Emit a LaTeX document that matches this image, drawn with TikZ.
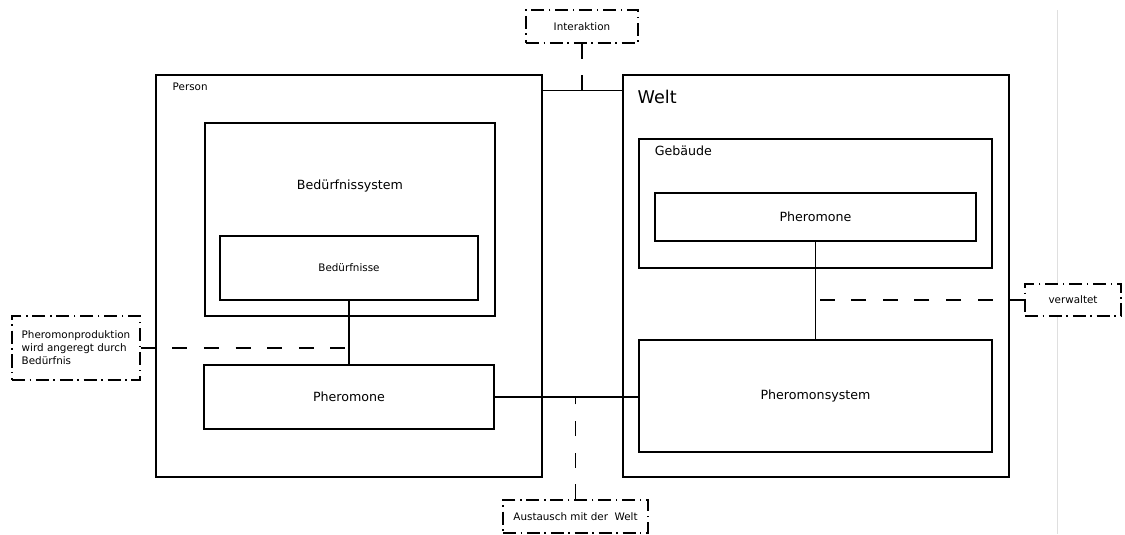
\documentclass[tikz,border=0pt]{standalone}
\usepackage{fontspec}
\setmainfont{DejaVu Sans}
\usetikzlibrary{positioning,calc}

\begin{document}
\begin{tikzpicture}[
    box/.style={rectangle, draw=black, line width=0.7pt, inner sep=0pt,
                font=\fontsize{7.2}{8.6}\selectfont},
    smalltxt/.style={font=\fontsize{5.9}{7.4}\selectfont},
    note/.style={rectangle, draw=black, fill=white, line width=0.8pt,
                 dash pattern=on 7.4pt off 2.6pt on 0.8pt off 2.8pt,
                 inner sep=0pt, smalltxt},
    lbl/.style={inner sep=0pt, font=\fontsize{7.2}{8.6}\selectfont},
    link/.style={line width=0.7pt},
    notelink/.style={line width=0.7pt, dash pattern=on 8.5pt off 9.5pt},
]
\useasboundingbox (0,0) rectangle (22.5,-10.68);

% page edge
\draw[gray!25, line width=0.5pt] (21.14,-0.2) -- (21.14,-10.68);

% Person
\node[box, minimum width=7.72cm, minimum height=8.04cm] (person) at (6.98,-5.52) {};
\node[lbl, smalltxt, anchor=west] at ($(person.north west)+(0.34,-0.24)$) {Person};

\node[box, minimum width=5.80cm, minimum height=3.86cm] (bsys) at (7.00,-4.39) {};
\node[lbl, below=1.14cm of bsys.north] {Bedürfnissystem};

\node[box, smalltxt, minimum width=5.16cm, minimum height=1.28cm] (bed) at (6.98,-5.36) {Bedürfnisse};
\node[box, minimum width=5.80cm, minimum height=1.28cm] (pherop) at (6.98,-7.94) {Pheromone};

% Welt
\node[box, minimum width=7.72cm, minimum height=8.04cm] (welt) at (16.32,-5.52) {};
\node[lbl, anchor=west, font=\fontsize{10}{12}\selectfont] at ($(welt.north west)+(0.30,-0.46)$) {Welt};

\node[box, minimum width=7.06cm, minimum height=2.58cm] (geb) at (16.31,-4.07) {};
\node[lbl, anchor=west] at ($(geb.north west)+(0.32,-0.24)$) {Gebäude};

\node[box, minimum width=6.42cm, minimum height=0.96cm] (pherow) at (16.31,-4.34) {Pheromone};
\node[box, minimum width=7.06cm, minimum height=2.24cm] (phsys) at (16.31,-7.92) {Pheromonsystem};

% notes
\node[note, minimum width=2.24cm, minimum height=0.66cm] (inter) at (11.64,-0.53) {Interaktion};
\node[note, minimum width=2.90cm, minimum height=0.66cm] (aust) at (11.51,-10.33) {Austausch mit der\ \ Welt};
\node[note, minimum width=1.92cm, minimum height=0.64cm] (verw) at (21.46,-6.00) {verwaltet};
\node[note, minimum width=2.56cm, minimum height=1.28cm, align=left] (prod) at (1.52,-6.96)
    {Pheromonproduktion\\wird angeregt durch\\Bedürfnis};

% connectors
\coordinate (pw) at ($(person.north east)+(0,-0.32)$);
\draw[link] (pw) -- (pw -| welt.west);
\draw[link] (bed) -- (pherop);
\draw[link] (pherow) -- (phsys);
\draw[link] (pherop.east) -- (pherop.east -| phsys.west);

\draw[notelink] (inter) -- (inter |- pw);
\draw[notelink] (prod) -- (prod -| bed.south);
\draw[notelink] (verw) -- (verw -| pherow.south);
\draw[notelink] (aust) -- (aust |- pherop.east);

\end{tikzpicture}
\end{document}
